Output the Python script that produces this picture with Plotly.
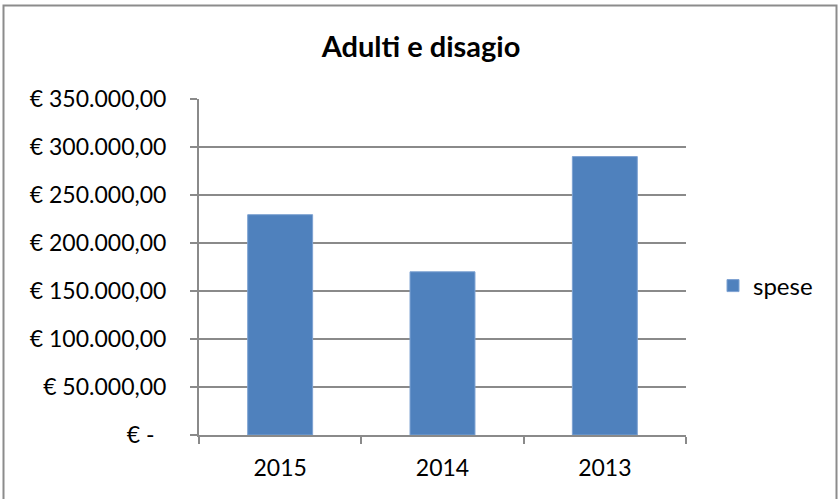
import plotly.graph_objects as go

categories = ["2015", "2014", "2013"]
spese = [229500, 170000, 290000]
y_tickvals = [0, 50000, 100000, 150000, 200000, 250000, 300000, 350000]
y_ticktext = ["€ -\u00a0\u00a0", "€ 50.000,00", "€ 100.000,00", "€ 150.000,00",
              "€ 200.000,00", "€ 250.000,00", "€ 300.000,00", "€ 350.000,00"]

FONT = "Lato"
GRID = "#8a8a8a"

fig = go.Figure()
fig.add_trace(go.Bar(
    x=categories, y=spese, name="spese",
    marker=dict(color="#4F81BD", line=dict(color="#7DA2D2", width=1)),
))

W, H = 838, 499
ml, mr, mt, mb = 199, 152, 99, 64
pw, ph = W - ml - mr, H - mt - mb

def px_x(p):
    return (p - ml) / pw

def px_y(p):
    return (H - mb - p) / ph

fig.update_layout(
    width=W, height=H,
    margin=dict(l=ml, r=mr, t=mt, b=mb),
    paper_bgcolor="white", plot_bgcolor="white",
    font=dict(family=FONT, size=23, color="black"),
    title=dict(text="<b>Adulti e disagio</b>", x=421 / W, xanchor="center",
               y=1 - 47 / H, yanchor="middle", font=dict(family=FONT, size=29, color="black")),
    bargap=0.6,
    showlegend=True,
    legend=dict(x=px_x(713), y=px_y(286), xanchor="left", yanchor="middle",
                font=dict(family=FONT, size=24), bgcolor="rgba(0,0,0,0)",
                itemwidth=30),
    xaxis=dict(type="category", showline=True, linecolor=GRID, linewidth=2,
               ticks="outside", tickson="boundaries", ticklen=7, tickcolor=GRID, tickwidth=2,
               showgrid=False, tickfont=dict(family=FONT, size=23), ticklabelstandoff=11),
    yaxis=dict(range=[0, 350000], tickvals=y_tickvals, ticktext=y_ticktext,
               showline=True, linecolor=GRID, linewidth=2,
               ticks="outside", ticklen=7, tickcolor=GRID, tickwidth=2,
               showgrid=True, gridcolor=GRID, gridwidth=1.5, zeroline=False,
               tickfont=dict(family=FONT, size=23), ticklabelstandoff=19),
    shapes=[dict(type="rect", xref="paper", yref="paper",
                 x0=px_x(3.5), x1=px_x(836.5), y0=px_y(505), y1=px_y(5.5),
                 line=dict(color="#8c8c8c", width=2), fillcolor="rgba(0,0,0,0)", layer="above")],
)

fig.write_html("out.html", config={"displayModeBar": False},
               post_script="document.body.style.margin='0px';document.body.style.padding='0px';")
